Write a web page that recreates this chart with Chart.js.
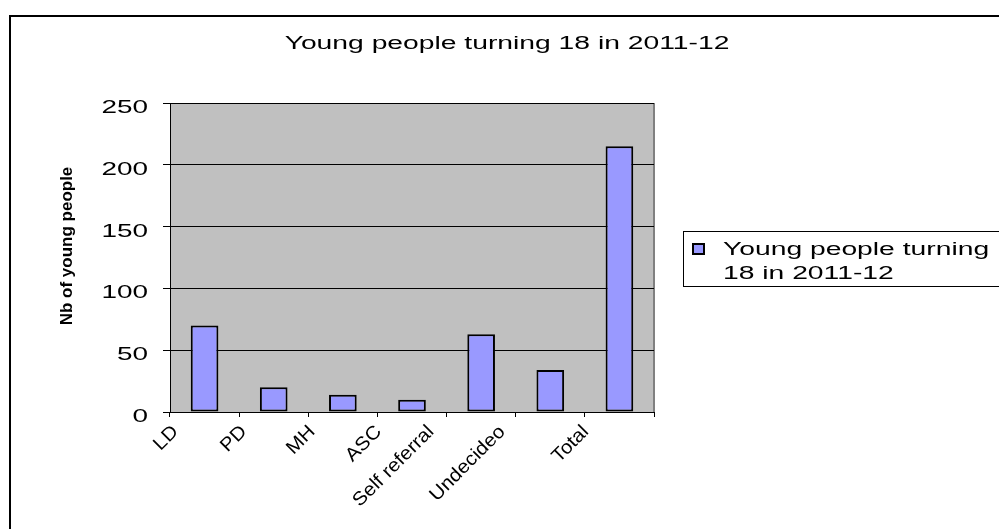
<!DOCTYPE html>
<html>
<head>
<meta charset="utf-8">
<script src="https://cdn.jsdelivr.net/npm/chart.js@4"></script>
<style>
  html, body { margin: 0; padding: 0; background: #fff; }
  #wrap { width: 999px; height: 529px; }
</style>
</head>
<body>
<div id="wrap"><canvas id="chart" width="999" height="529"></canvas></div>
<script>
// values
var categories = ["LD", "PD", "MH", "ASC", "Self referral", "Undecideo", "Total"];
var youngPeople = [70, 20, 14, 10, 63, 34, 215];
var seriesName = "Young people turning 18 in 2011-12";
var legendLines = ["Young people turning", "18 in 2011-12"];
var yTicks = [0, 50, 100, 150, 200, 250];
var yTitle = "Nb of young people";

var FONT = "'Liberation Sans', Arial, sans-serif";
// the old Excel render draws its text stretched sideways
var WIDE = 1.57;

function wideText(c, txt, x, y, sx, align) {
  c.save();
  c.translate(x, y);
  c.scale(sx, 1);
  c.textAlign = align;
  c.fillText(txt, 0, 0);
  c.restore();
}

var excelBits = {
  id: 'excelBits',
  beforeDraw: function(chart) {
    var c = chart.ctx, a = chart.chartArea;
    c.save();
    c.fillStyle = '#c0c0c0';
    c.fillRect(a.left, a.top, a.right - a.left, a.bottom - a.top);
    c.strokeStyle = '#808080';
    c.lineWidth = 2;
    c.beginPath();
    c.moveTo(a.right, a.top);
    c.lineTo(a.right, a.bottom);
    c.stroke();
    c.restore();
  },
  afterDraw: function(chart) {
    var c = chart.ctx;
    var xs = chart.scales.x, ys = chart.scales.y;
    c.save();
    // outer frame, only left and top edges fall inside the picture
    c.strokeStyle = '#000';
    c.lineWidth = 2;
    c.beginPath();
    c.moveTo(10, 540);
    c.lineTo(10, 16);
    c.lineTo(1010, 16);
    c.stroke();

    c.fillStyle = '#000';
    c.textBaseline = 'alphabetic';

    // title
    c.font = '18px ' + FONT;
    wideText(c, seriesName, 507, 49, WIDE, 'center');

    // y tick labels
    c.font = '18px ' + FONT;
    ys.ticks.forEach(function(t, i) {
      wideText(c, String(t.value), 148, ys.getPixelForTick(i) + 10, 1.55, 'right');
    });

    // x tick labels, rotated 45 deg
    c.font = '19px ' + FONT;
    var sx = 1.08, cap = 13.6, k = Math.SQRT1_2;
    xs.ticks.forEach(function(t, i) {
      var txt = categories[i];
      var w = c.measureText(txt).width * sx;
      var bw = (w + cap) * k;
      var right = xs.getPixelForTick(i) - (15 + 0.37 * bw);
      var top = 423;
      c.save();
      c.translate(right, top + cap * k);
      c.rotate(-Math.PI / 4);
      c.scale(sx, 1);
      c.textAlign = 'right';
      c.fillText(txt, 0, 0);
      c.restore();
    });

    // y axis title
    c.save();
    c.translate(67, 246);
    c.rotate(-Math.PI / 2);
    c.font = 'bold 17px ' + FONT;
    c.textAlign = 'center';
    c.textBaseline = 'middle';
    c.fillText(yTitle, 0, 0);
    c.restore();

    // legend
    var ds = chart.data.datasets[0];
    c.lineWidth = 1;
    c.strokeStyle = '#000';
    c.fillStyle = '#fff';
    c.fillRect(683, 231, 330, 55);
    c.strokeRect(683.5, 231.5, 330, 55);
    c.fillStyle = ds.backgroundColor;
    c.fillRect(693, 244, 11, 10);
    c.lineWidth = 2;
    c.strokeRect(693, 244, 11, 10);
    c.fillStyle = '#000';
    c.font = '18px ' + FONT;
    wideText(c, legendLines[0], 723, 255, WIDE, 'left');
    wideText(c, legendLines[1], 723, 279, WIDE, 'left');
    c.restore();
  }
};

new Chart(document.getElementById('chart'), {
  type: 'bar',
  data: {
    labels: categories,
    datasets: [{
      label: seriesName,
      data: youngPeople,
      backgroundColor: '#9999ff',
      borderColor: '#000',
      borderWidth: 2,
      borderSkipped: false,
      categoryPercentage: 1,
      barPercentage: 0.4
    }]
  },
  options: {
    responsive: false,
    animation: false,
    layout: { padding: { left: 10, top: 103, right: 345, bottom: 0 } },
    plugins: {
      legend: { display: false },
      title: { display: false },
      tooltip: { enabled: false }
    },
    scales: {
      x: {
        offset: true,
        afterFit: function(s) { s.height = 117; },
        border: { color: '#000', width: 1 },
        grid: { display: true, drawOnChartArea: false, drawTicks: true, tickLength: 5, color: '#000', offset: true },
        ticks: { display: false, autoSkip: false }
      },
      y: {
        min: 0, max: 250,
        afterFit: function(s) { s.width = 160; },
        afterBuildTicks: function(s) { s.ticks = yTicks.map(function(v) { return { value: v }; }); },
        border: { color: '#000', width: 1 },
        grid: { color: '#000', lineWidth: 1, tickLength: 7, drawTicks: true },
        ticks: { display: false }
      }
    }
  },
  plugins: [excelBits]
});
</script>
</body>
</html>
